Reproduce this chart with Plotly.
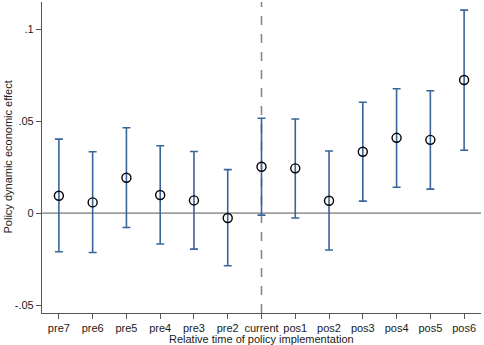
import plotly.graph_objects as go

categories = ["pre7", "pre6", "pre5", "pre4", "pre3", "pre2", "current",
              "pos1", "pos2", "pos3", "pos4", "pos5", "pos6"]
estimates = [0.0094, 0.0058, 0.0192, 0.0098, 0.0069, -0.0027, 0.0252,
             0.0243, 0.0067, 0.0333, 0.0409, 0.0398, 0.0723]
upper = [0.0402, 0.0333, 0.0464, 0.0366, 0.0335, 0.0236, 0.0515,
         0.0511, 0.0337, 0.0602, 0.0676, 0.0665, 0.1103]
lower = [-0.0210, -0.0214, -0.0078, -0.0168, -0.0196, -0.0286, -0.0011,
         -0.0027, -0.0201, 0.0065, 0.0140, 0.0130, 0.0341]
ytick_vals = [-0.05, 0, 0.05, 0.1]
ytick_text = ["-.05", "0", ".05", ".1"]

xs = list(range(len(categories)))
err_plus = [u - e for u, e in zip(upper, estimates)]
err_minus = [e - l for e, l in zip(estimates, lower)]

fig = go.Figure()
fig.add_trace(go.Scatter(
    x=xs, y=estimates, mode="markers",
    marker=dict(symbol="circle-open", size=9, color="black", line=dict(width=1.4, color="black")),
    error_y=dict(type="data", symmetric=False, array=err_plus, arrayminus=err_minus,
                 color="#3a659a", thickness=1.6, width=4),
    showlegend=False,
))

fig.add_shape(type="line", xref="paper", yref="y", x0=0, x1=1, y0=0, y1=0,
              line=dict(color="#555555", width=1), layer="below")
fig.add_shape(type="line", xref="x", yref="paper", x0=categories.index("current"),
              x1=categories.index("current"), y0=0, y1=1,
              line=dict(color="#888888", width=1.6, dash="dash"), layer="below")

font = dict(family="Liberation Sans, Arial, sans-serif", size=11, color="#1a1a1a")
fig.update_layout(
    width=484, height=345,
    margin=dict(l=42, r=3, t=2, b=32),
    paper_bgcolor="white", plot_bgcolor="white",
    font=font,
    xaxis=dict(
        range=[-0.5, 12.5], tickmode="array", tickvals=xs, ticktext=categories,
        showgrid=False, zeroline=False, showline=True, linecolor="#555555", linewidth=1.2,
        ticks="outside", ticklen=5, tickcolor="#555555", automargin=False,
        tickfont=font,
    ),
    yaxis=dict(
        range=[-0.0543, 0.1147], tickmode="array", tickvals=ytick_vals, ticktext=ytick_text,
        showgrid=False, zeroline=False, showline=True, linecolor="#555555", linewidth=1.2,
        ticks="outside", ticklen=5, tickcolor="#555555", automargin=False,
        tickfont=font,
    ),
    annotations=[
        dict(text="Relative time of policy implementation", xref="paper", yref="paper",
             x=0.5, y=0, yshift=-26, xanchor="center", yanchor="middle",
             showarrow=False, font=font),
        dict(text="Policy dynamic economic effect", xref="paper", yref="paper",
             x=0, y=0.5, xshift=-35, xanchor="center", yanchor="middle", textangle=-90,
             showarrow=False, font=font),
    ],
)

fig.write_html("out.html", config={"displayModeBar": False},
               post_script="document.body.style.margin='0';document.body.style.overflow='hidden';")
